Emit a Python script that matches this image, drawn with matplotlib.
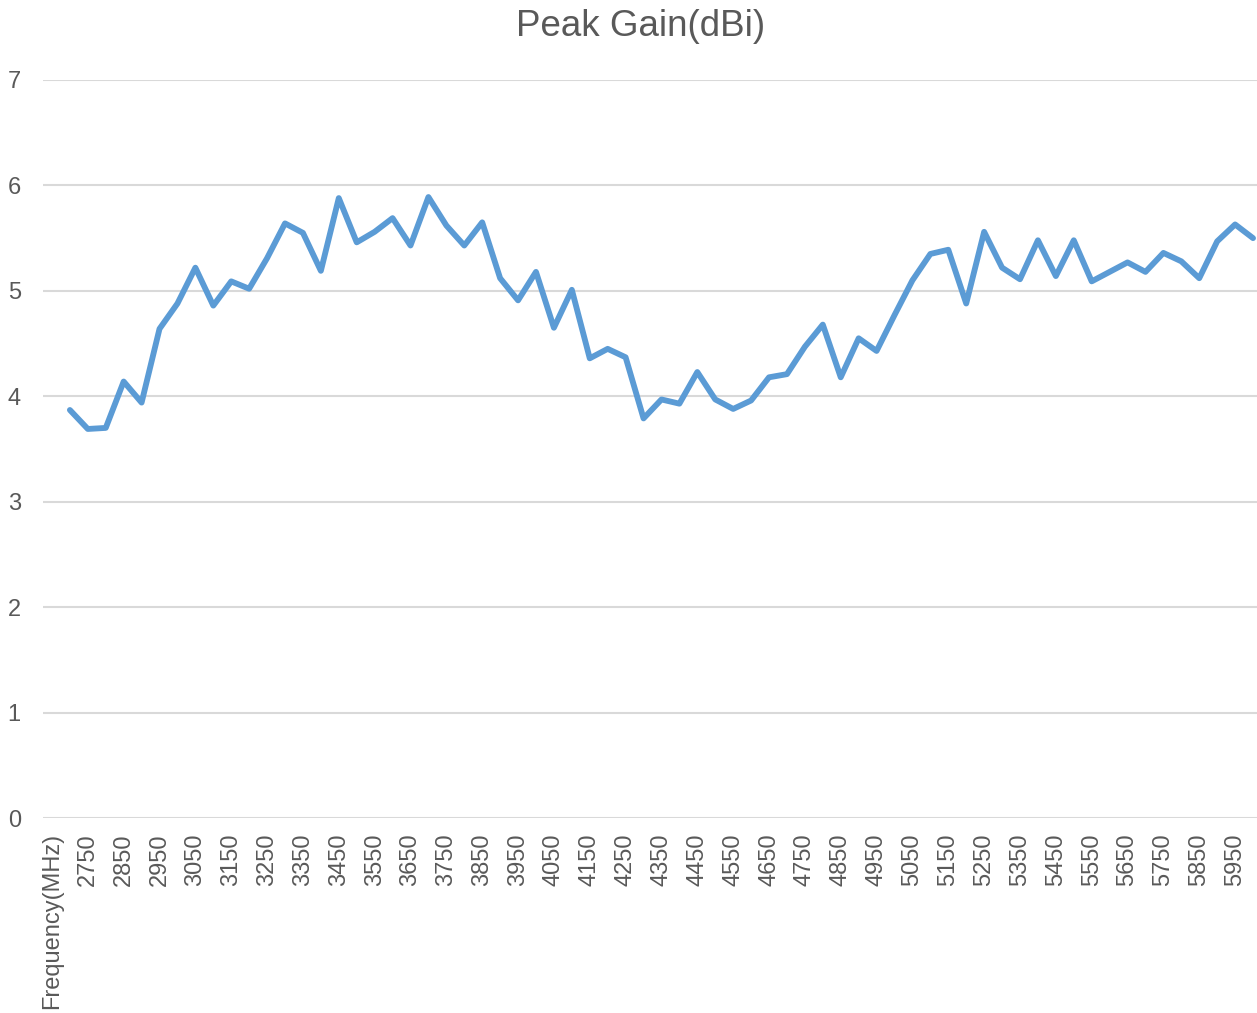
import matplotlib.pyplot as plt

# Peak gain (dBi) from 2700 to 6000 MHz, 50 MHz step
freqs = list(range(2700, 6001, 50))
gain = [
    3.87, 3.69, 3.70, 4.14, 3.94, 4.64, 4.88, 5.22, 4.86, 5.09,
    5.02, 5.31, 5.64, 5.55, 5.19, 5.88, 5.46, 5.56, 5.69, 5.43,
    5.89, 5.62, 5.43, 5.65, 5.12, 4.91, 5.18, 4.65, 5.01, 4.36,
    4.45, 4.37, 3.79, 3.97, 3.93, 4.23, 3.97, 3.88, 3.96, 4.18,
    4.21, 4.47, 4.68, 4.18, 4.55, 4.43, 4.77, 5.10, 5.35, 5.39,
    4.88, 5.56, 5.22, 5.11, 5.48, 5.14, 5.48, 5.09, 5.18, 5.27,
    5.18, 5.36, 5.28, 5.12, 5.47, 5.63, 5.50,
]
categories = ["Frequency(MHz)"] + [str(f) for f in freqs]
title = "Peak Gain(dBi)"

TEXT = "#595959"
GRID = "#d9d9d9"
LINE = "#5b9bd5"

plt.rcParams["font.family"] = ["Liberation Sans", "DejaVu Sans"]

W, H = 1257, 1013
fig = plt.figure(figsize=(W / 100, H / 100), dpi=100)
ax = fig.add_axes([43 / W, (H - 818) / H, (1262 - 43) / W, (818 - 80) / H])

xs = list(range(1, len(categories)))
ax.plot(xs, gain, color=LINE, lw=4.2, solid_joinstyle="round", solid_capstyle="round",
        clip_on=False, zorder=3)

ax.set_xlim(-0.5, len(categories) - 0.5)
ax.set_ylim(0, 7)
ax.set_yticks(range(0, 8))
ax.yaxis.grid(True, color=GRID, lw=1.5)
ax.set_axisbelow(True)

tick_pos = list(range(0, len(categories), 2))
ax.set_xticks(tick_pos)
ax.set_xticklabels([categories[i] for i in tick_pos], rotation=90, va="top", ha="center")

for s in ax.spines.values():
    s.set_visible(False)
ax.tick_params(axis="both", length=0, labelsize=17, colors=TEXT)
ax.tick_params(axis="y", pad=16)
ax.tick_params(axis="x", pad=11)

fig.text(641 / W, 1 - 27 / H, title, ha="center", va="center", fontsize=26.5, color=TEXT)

fig.savefig("out.png", dpi=100)
